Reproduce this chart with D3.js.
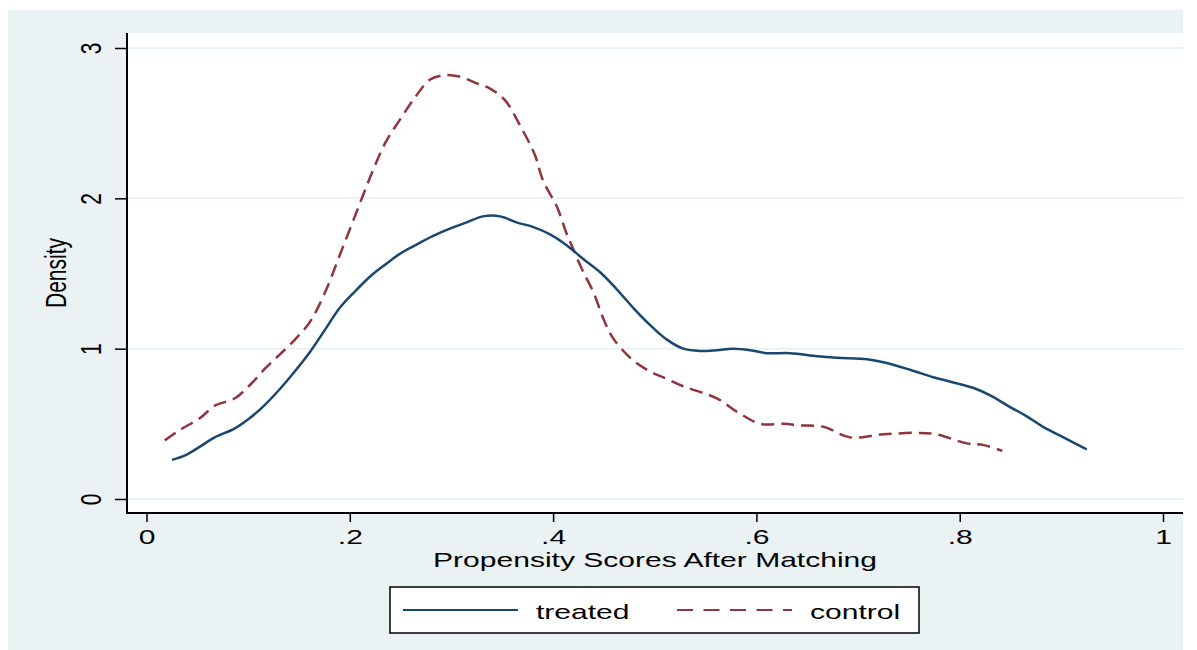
<!DOCTYPE html>
<html>
<head>
<meta charset="utf-8">
<script src="https://cdn.jsdelivr.net/npm/d3@7"></script>
<style>
  body { margin: 0; background: #fff; }
  svg { display: block; }
  text { font-family: "Liberation Sans", Arial, sans-serif; fill: #000; }
</style>
</head>
<body>
<svg width="1197" height="650"></svg>
<script>
// kernel density values
const treatedX = [0.025,0.038,0.053,0.067,0.087,0.102,0.117,0.131,0.146,0.161,0.176,0.19,0.205,0.22,0.235,0.249,0.265,0.282,0.299,0.315,0.331,0.348,0.364,0.380,0.397,0.413,0.429,0.446,0.462,0.479,0.495,0.512,0.528,0.545,0.561,0.577,0.594,0.610,0.633,0.660,0.679,0.709,0.725,0.751,0.774,0.791,0.813,0.830,0.850,0.866,0.882,0.905,0.925]
const treatedY = [0.26,0.29,0.35,0.41,0.47,0.54,0.63,0.73,0.85,0.98,1.13,1.27,1.38,1.48,1.56,1.63,1.69,1.75,1.80,1.84,1.88,1.88,1.84,1.81,1.76,1.69,1.60,1.51,1.40,1.27,1.16,1.06,1.0,0.985,0.99,1.0,0.99,0.97,0.97,0.95,0.94,0.93,0.91,0.86,0.81,0.78,0.74,0.69,0.61,0.55,0.48,0.40,0.33]

const controlX = [0.018,0.033,0.053,0.067,0.087,0.102,0.117,0.131,0.146,0.161,0.176,0.19,0.205,0.22,0.235,0.249,0.264,0.279,0.294,0.308,0.323,0.338,0.353,0.367,0.382,0.39,0.404,0.413,0.42,0.429,0.44,0.45,0.46,0.479,0.495,0.508,0.528,0.561,0.581,0.604,0.627,0.643,0.666,0.692,0.725,0.758,0.777,0.807,0.823,0.842]
const controlY = [0.39,0.46,0.54,0.62,0.67,0.76,0.87,0.96,1.06,1.18,1.38,1.62,1.88,2.14,2.37,2.52,2.67,2.79,2.82,2.81,2.77,2.73,2.65,2.49,2.29,2.12,1.94,1.77,1.66,1.52,1.37,1.19,1.06,0.92,0.85,0.81,0.75,0.67,0.58,0.50,0.50,0.49,0.48,0.41,0.43,0.44,0.43,0.37,0.36,0.32]

const xTicks = [0, 0.2, 0.4, 0.6, 0.8, 1]
const xTickLabels = ['0', '.2', '.4', '.6', '.8', '1']
const yTicks = [0, 1, 2, 3]
const yTickLabels = ['0', '1', '2', '3']

const seriesNames = ['treated', 'control']

// the picture is stretched sideways, so text gets the same stretch
const sx = 1.43
const fontSize = 21

const svg = d3.select('svg')

const plot = { left: 127, right: 1183, top: 33, bottom: 513 }

const x = d3.scaleLinear().domain([0, 1]).range([146.5, 1163])
const y = d3.scaleLinear().domain([0, 3]).range([499, 48])

// backgrounds
svg.append('rect')
    .attr('x', 8).attr('y', 10)
    .attr('width', plot.right - 8).attr('height', 640)
    .attr('fill', '#eaf2f3')

svg.append('rect')
    .attr('x', plot.left).attr('y', plot.top)
    .attr('width', plot.right - plot.left).attr('height', plot.bottom - plot.top)
    .attr('fill', '#fff')

// grid
svg.append('g').selectAll('line')
    .data(yTicks)
    .enter().append('line')
        .attr('x1', plot.left).attr('x2', plot.right)
        .attr('y1', d => y(d)).attr('y2', d => y(d))
        .attr('stroke', '#eaf2f3')
        .attr('stroke-width', 2)

// y axis
const yAxis = svg.append('g')
    .attr('transform', `translate(${plot.left},0)`)
    .call(d3.axisLeft(y).tickValues(yTicks).tickSize(12).tickFormat(''))
yAxis.select('.domain').remove()
yAxis.selectAll('.tick line').attr('stroke', '#000').attr('stroke-width', 1.5)
yAxis.selectAll('.tick')
    .append('text')
        .attr('transform', `translate(-26,0) scale(${sx},1) rotate(-90)`)
        .attr('text-anchor', 'middle')
        .style('font-size', fontSize + 'px')
        .text((d, i) => yTickLabels[i])

// x axis
const xAxis = svg.append('g')
    .attr('transform', `translate(0,${plot.bottom})`)
    .call(d3.axisBottom(x).tickValues(xTicks).tickSize(9).tickFormat(''))
xAxis.select('.domain').remove()
xAxis.selectAll('.tick line').attr('stroke', '#000').attr('stroke-width', 1.5)
xAxis.selectAll('.tick')
    .append('text')
        .attr('transform', `translate(0,31) scale(${sx},1)`)
        .attr('text-anchor', 'middle')
        .style('font-size', fontSize + 'px')
        .text((d, i) => xTickLabels[i])

svg.append('line')
    .attr('x1', plot.left).attr('x2', plot.left)
    .attr('y1', plot.top).attr('y2', plot.bottom + 1)
    .attr('stroke', '#000').attr('stroke-width', 2)
svg.append('line')
    .attr('x1', plot.left).attr('x2', plot.right)
    .attr('y1', plot.bottom).attr('y2', plot.bottom)
    .attr('stroke', '#000').attr('stroke-width', 2)

// titles
svg.append('text')
    .attr('transform', `translate(66,273) scale(${sx},1) rotate(-90)`)
    .attr('text-anchor', 'middle')
    .style('font-size', fontSize + 'px')
    .text('Density')

svg.append('text')
    .attr('transform', `translate(655,567) scale(${sx},1)`)
    .attr('text-anchor', 'middle')
    .style('font-size', fontSize + 'px')
    .text('Propensity Scores After Matching')

// curves
const line = d3.line()
    .x(d => x(d[0]))
    .y(d => y(d[1]))
    .curve(d3.curveCatmullRom.alpha(0.5))

svg.append('path')
    .datum(controlX.map((v, i) => [v, controlY[i]]))
    .attr('d', line)
    .attr('fill', 'none')
    .attr('stroke', '#90353b')
    .attr('stroke-width', 2.5)
    .attr('stroke-dasharray', '13,7')

svg.append('path')
    .datum(treatedX.map((v, i) => [v, treatedY[i]]))
    .attr('d', line)
    .attr('fill', 'none')
    .attr('stroke', '#1a476f')
    .attr('stroke-width', 2.5)

// legend
const legend = svg.append('g')
legend.append('rect')
    .attr('x', 390).attr('y', 587)
    .attr('width', 529).attr('height', 46)
    .attr('fill', '#fff')
    .attr('stroke', '#000')
    .attr('stroke-width', 1.5)

const keys = legend.selectAll('.key')
    .data(seriesNames)
    .enter().append('g')
        .attr('class', 'key')
        .attr('transform', (d, i) => `translate(${i === 0 ? 403 : 677},610)`)
keys.append('line')
    .attr('x1', 0).attr('x2', 115)
    .attr('stroke', (d, i) => i === 0 ? '#1a476f' : '#90353b')
    .attr('stroke-width', 2)
    .attr('stroke-dasharray', (d, i) => i === 0 ? null : '16,10.5')
keys.append('text')
    .attr('transform', `translate(133,9) scale(${sx},1)`)
    .style('font-size', fontSize + 'px')
    .text(d => d)
</script>
</body>
</html>
